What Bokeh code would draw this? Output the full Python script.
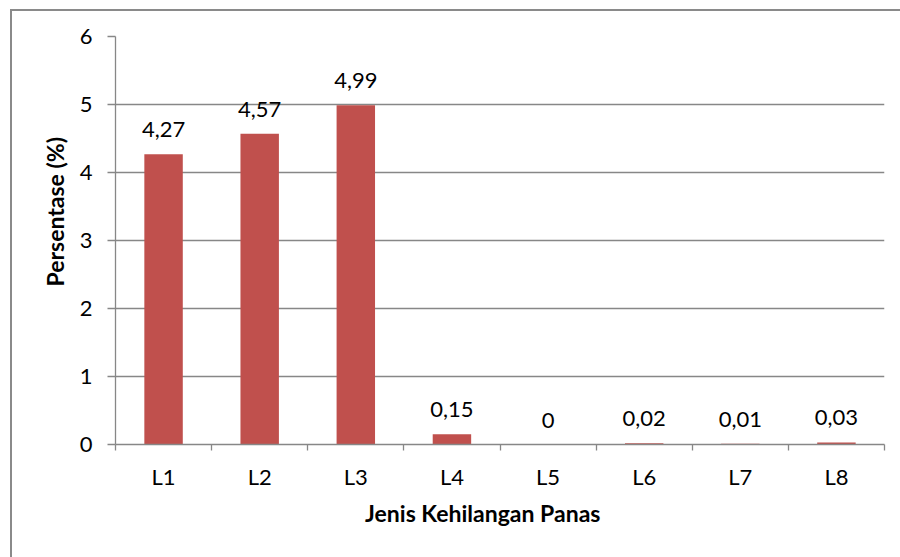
from bokeh.plotting import figure
from bokeh.models import ColumnDataSource, FixedTicker, LabelSet, Range1d
from bokeh.core.properties import value
from bokeh.embed import file_html
from bokeh.resources import INLINE

categories = ["L1", "L2", "L3", "L4", "L5", "L6", "L7", "L8"]
values = [4.27, 4.57, 4.99, 0.15, 0.0, 0.02, 0.01, 0.03]
value_labels = ["4,27", "4,57", "4,99", "0,15", "0", "0,02", "0,01", "0,03"]
y_ticks = [0, 1, 2, 3, 4, 5, 6]
x_title = "Jenis Kehilangan Panas"
y_title = "Persentase (%)"

FONT = "Lato"
GREY = "#878787"
BAR = "#C0504D"
EN = "\u2002"  # en spaces used to nudge the centred titles like the reference

xpos = [i + 0.5 for i in range(len(categories))]
src = ColumnDataSource(dict(x=xpos, top=values, lab=value_labels))

p = figure(width=890, height=548, output_backend="svg", toolbar_location=None,
           x_range=Range1d(0, len(categories)), y_range=Range1d(0, 6),
           min_border_left=103, min_border_right=18, min_border_top=25, min_border_bottom=115)
p.margin = (9, 0, 0, 10)
p.styles = {"border-left": "2px solid #8a8a8a", "border-top": "2px solid #8a8a8a"}

p.vbar(x="x", top="top", width=0.4, source=src, fill_color=BAR, line_color=None)

labels = LabelSet(x="x", y="top", text="lab", source=src, text_align="center",
                  text_baseline="alphabetic", y_offset=17, text_font=value(FONT),
                  text_font_size="22px", text_color="#000000")
p.add_layout(labels)

p.outline_line_color = None
p.xgrid.grid_line_color = None
p.ygrid.grid_line_color = GREY
p.ygrid.grid_line_width = 1.3

p.yaxis.ticker = FixedTicker(ticks=y_ticks)
p.yaxis.axis_line_color = GREY
p.yaxis.axis_line_width = 1.3
p.yaxis.major_tick_line_color = GREY
p.yaxis.major_tick_line_width = 1.3
p.yaxis.major_tick_out = 8
p.yaxis.major_tick_in = 0
p.yaxis.minor_tick_line_color = None
p.yaxis.major_label_standoff = 15
p.yaxis.major_label_text_font = FONT
p.yaxis.major_label_text_font_size = "22px"
p.yaxis.major_label_text_color = "#000000"
p.yaxis.axis_label = EN * 5 + y_title
p.yaxis.axis_label_text_font = FONT
p.yaxis.axis_label_text_font_size = "23px"
p.yaxis.axis_label_text_font_style = "bold"
p.yaxis.axis_label_text_color = "#000000"
p.yaxis.axis_label_standoff = 8

p.xaxis.ticker = FixedTicker(ticks=xpos, minor_ticks=list(range(len(categories) + 1)))
p.xaxis.major_label_overrides = {x: c for x, c in zip(xpos, categories)}
p.xaxis.axis_line_color = GREY
p.xaxis.axis_line_width = 1.3
p.xaxis.major_tick_line_color = None
p.xaxis.major_tick_out = 0
p.xaxis.major_tick_in = 0
p.xaxis.minor_tick_line_color = GREY
p.xaxis.minor_tick_line_width = 1.3
p.xaxis.minor_tick_out = 6
p.xaxis.minor_tick_in = 0
p.xaxis.major_label_standoff = 12
p.xaxis.major_label_text_font = FONT
p.xaxis.major_label_text_font_size = "22px"
p.xaxis.major_label_text_color = "#000000"
p.xaxis.axis_label = x_title + EN * 3
p.xaxis.axis_label_text_font = FONT
p.xaxis.axis_label_text_font_size = "23px"
p.xaxis.axis_label_text_font_style = "bold"
p.xaxis.axis_label_text_color = "#000000"
p.xaxis.axis_label_standoff = 6

open("out.html", "w").write(file_html(p, INLINE))
